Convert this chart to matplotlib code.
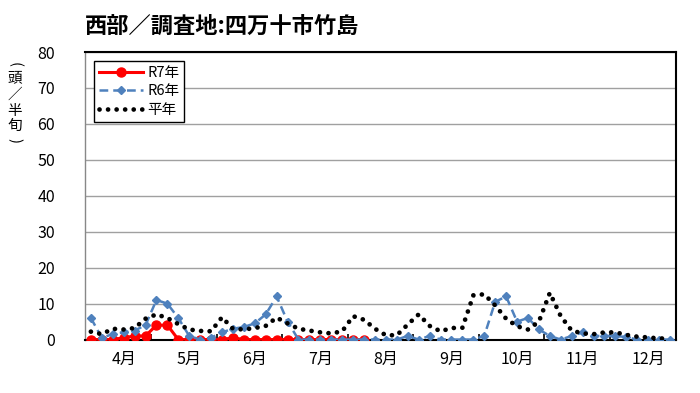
import matplotlib
matplotlib.use('Agg')
import matplotlib.pyplot as plt
import numpy as np

plt.rcParams['font.family'] = ['Noto Sans CJK JP', 'DejaVu Sans']

# half-month (半旬) counts, April to December: 6 per month
months = ['4月', '5月', '6月', '7月', '8月', '9月', '10月', '11月', '12月']

r7 = [0, 0, 0, 0.5, 1, 1, 4, 4, 0, 0, 0, 0,
      0, 0.5, 0, 0, 0, 0, 0, 0, 0, 0, 0, 0,
      0, 0]

r6 = [6, 0.5, 1.5, 2, 2.5, 4, 11, 10, 6, 1, 0, 0.5,
      2, 3, 3.5, 4.5, 7, 12, 5, 0, 0, 0, 0, 0,
      0, 0, 0, 0, 0, 1, 0, 1, 0, 0, 0, 0,
      1, 10.5, 12, 5, 6, 2.8, 1, 0, 1, 2, 1, 1,
      1, 0.7, 0, 0, 0, 0]

heinen = [2.2, 1.5, 3, 2.8, 3.2, 5.8, 7, 6, 4.3, 2.8, 2.4, 2.3,
          6.2, 3, 2.8, 3.2, 3.8, 6.1, 4.5, 3, 2.5, 2, 1.7, 2.3,
          6.5, 5.5, 3, 1.2, 1.2, 4.2, 7, 3.8, 2.3, 3.2, 3.3, 12.3,
          12.6, 9.5, 5.8, 3.7, 2.8, 5, 13, 6.5, 2.5, 1.7, 1.5, 2,
          2, 1.3, 0.8, 0.6, 0.3, 0.3]

fig = plt.figure(figsize=(7, 3.93), dpi=100)
ax = fig.add_axes([0.122, 0.136, 0.843, 0.7316])

ax.plot(np.arange(len(r7)), r7, color='#FF0000', lw=2.2, marker='o',
        markersize=6.5, label='R7年', zorder=3)
ax.plot(np.arange(len(r6)), r6, color='#4F81BD', lw=1.8, ls=(0, (3.5, 2)),
        marker='D', markersize=4, label='R6年', zorder=4)
ax.plot(np.arange(len(heinen)), heinen, color='black', lw=3.4,
        ls=(0, (0.01, 1.8)), dash_capstyle='round', label='平年', zorder=5)

ax.set_xlim(-0.5, len(heinen) - 0.5)
ax.set_ylim(0, 80)
ax.set_yticks(range(0, 81, 10))
ax.yaxis.grid(True, color='#A0A0A0', lw=1)
ax.set_axisbelow(True)
ax.tick_params(axis='y', length=0, pad=22, labelsize=11.5)

# month boundaries as ticks, month names as labels
ax.set_xticks([5.5 + 6 * k for k in range(8)])
ax.set_xticklabels([])
ax.tick_params(axis='x', which='major', direction='in', length=4, width=1.2)
ax.set_xticks([3 + 6 * k for k in range(9)], minor=True)
ax.set_xticklabels(months, minor=True)
ax.tick_params(axis='x', which='minor', length=0, pad=8, labelsize=11.5)

for side in ['top', 'right', 'bottom']:
    ax.spines[side].set_color('black')
    ax.spines[side].set_linewidth(1.5)
ax.spines['left'].set_color('#888888')
ax.spines['left'].set_linewidth(1)

leg = ax.legend(loc='upper left', bbox_to_anchor=(0.0144, 0.969),
                borderaxespad=0, fancybox=False, edgecolor='black',
                framealpha=1, fontsize=10.5, handlelength=3.0,
                handletextpad=0.3, labelspacing=0.3, borderpad=0.35)
leg.get_frame().set_linewidth(1)

fig.text(0.317, 0.934, '西部／調査地:四万十市竹島', ha='center', va='center',
         fontsize=16, fontweight='bold')

# vertical y label, one character per row
ylab_chars = ['(', '頭', '／', '半', '旬', ')']
ylab_y = [65, 78.5, 95, 111, 126, 140]
for ch, yy in zip(ylab_chars, ylab_y):
    rot = -90 if ch in '()' else 0
    fig.text(14.5 / 700, 1 - yy / 393, ch, ha='center', va='center',
             fontsize=10.5, rotation=rot)

fig.savefig('out.png', dpi=100)
